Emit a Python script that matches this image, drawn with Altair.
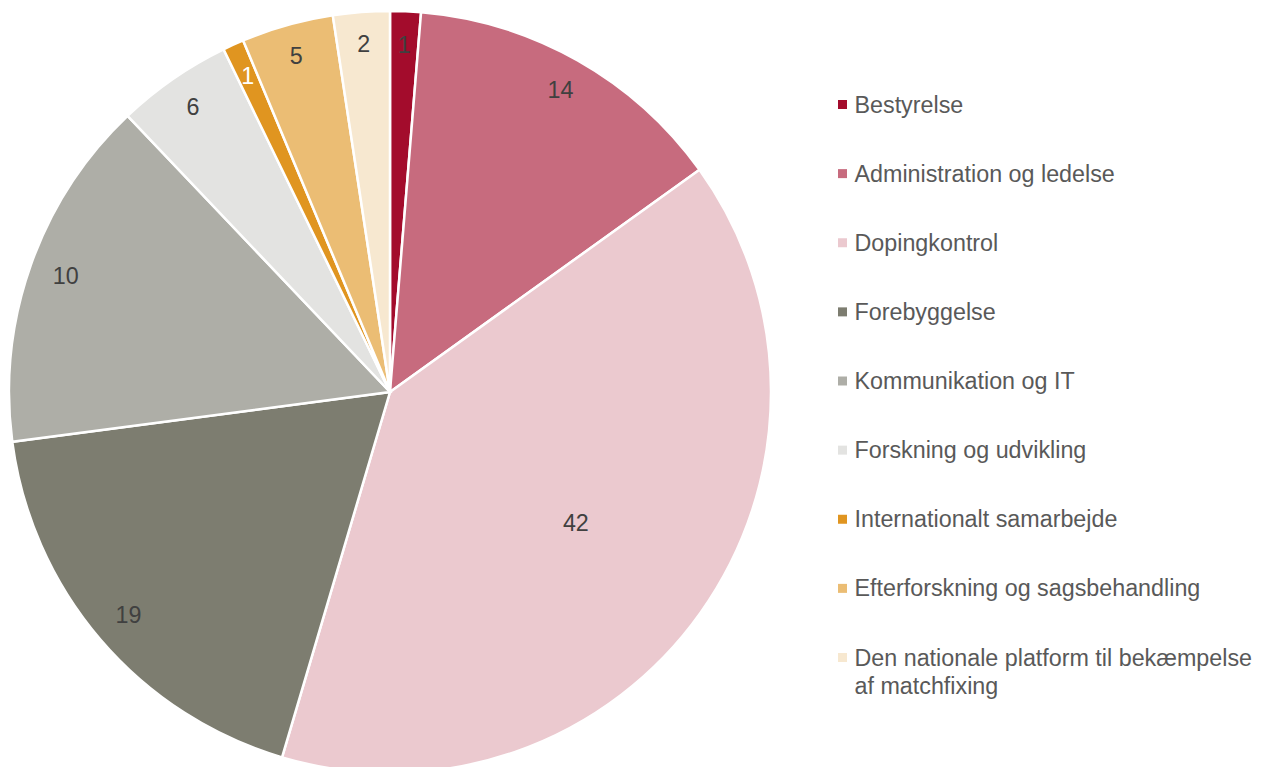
import altair as alt
import pandas as pd

categories = [
    "Bestyrelse",
    "Administration og ledelse",
    "Dopingkontrol",
    "Forebyggelse",
    "Kommunikation og IT",
    "Forskning og udvikling",
    "Internationalt samarbejde",
    "Efterforskning og sagsbehandling",
    "Den nationale platform til bekæmpelse af matchfixing",
]
legend_text = categories[:-1] + ["Den nationale platform til bekæmpelse\naf matchfixing"]
# slice shares (per cent of the circle)
shares = [1.3, 13.8, 39.5, 18.35, 15.0, 4.9, 0.9, 3.9, 2.4]
# data labels as printed on the slices
slice_labels = ["1", "14", "42", "19", "10", "6", "1", "5", "2"]
colors = ["#A30C2C", "#C76B7E", "#EBC9CF", "#7D7D70", "#AEAEA7",
          "#E3E3E1", "#E09520", "#EBBD74", "#F7E8D0"]
label_colors = ["#404040"] * 6 + ["#FFFFFF"] + ["#404040"] * 2
label_radius = [346, 346, 228, 344, 344, 346, 346, 348, 348]

df = pd.DataFrame({
    "idx": list(range(len(categories))),
    "cat": categories,
    "legendText": legend_text,
    "val": shares,
    "lab": slice_labels,
    "lc": label_colors,
    "lr": label_radius,
})
total = float(sum(shares))

FONT = "Liberation Sans"
FS = 23.3
CX, CY, R = 382, 384, 381

base = alt.Chart(df)

pie = base.mark_arc(outerRadius=R, stroke="white", strokeWidth=2.5).encode(
    theta=alt.Theta("val:Q", stack=True, scale=alt.Scale(domain=[0, total])),
    order=alt.Order("idx:Q"),
    color=alt.Color("cat:N", scale=alt.Scale(domain=categories, range=colors), legend=None),
    x=alt.value(CX),
    y=alt.value(CY),
)

pie_labels = base.transform_window(
    cum="sum(val)", sort=[alt.SortField("idx", order="ascending")],
    frame=[None, 0],
).transform_calculate(
    mid="datum.cum - datum.val / 2"
).mark_text(font=FONT, fontSize=FS, align="center", baseline="middle").encode(
    theta=alt.Theta("mid:Q", stack=False, scale=alt.Scale(domain=[0, total])),
    radius=alt.Radius("lr:Q", scale=None),
    text="lab:N",
    color=alt.Color("lc:N", scale=None),
    x=alt.value(CX),
    y=alt.value(CY),
)

leg_y = alt.Y("cat:N", sort=categories,
              scale=alt.Scale(domain=categories, range=[96.5, 649.5], padding=0),
              axis=None)

leg_sym = base.mark_square(size=81, opacity=1).encode(
    x=alt.value(834.5),
    y=leg_y,
    color=alt.Color("cat:N", scale=alt.Scale(domain=categories, range=colors), legend=None),
)

leg_txt = base.mark_text(font=FONT, fontSize=FS, align="left", baseline="alphabetic",
                         dy=8, lineBreak="\n", lineHeight=28, color="#595959").encode(
    x=alt.value(846.5),
    y=leg_y,
    text="legendText:N",
)

chart = alt.layer(pie, pie_labels, leg_sym, leg_txt).resolve_scale(
    color="independent", theta="independent"
).properties(
    width=1250, height=759,
    autosize=alt.AutoSizeParams(type="none"),
    padding=0,
).configure_view(stroke=None)

chart.save("out.html", embed_options={"renderer": "svg", "actions": False})
